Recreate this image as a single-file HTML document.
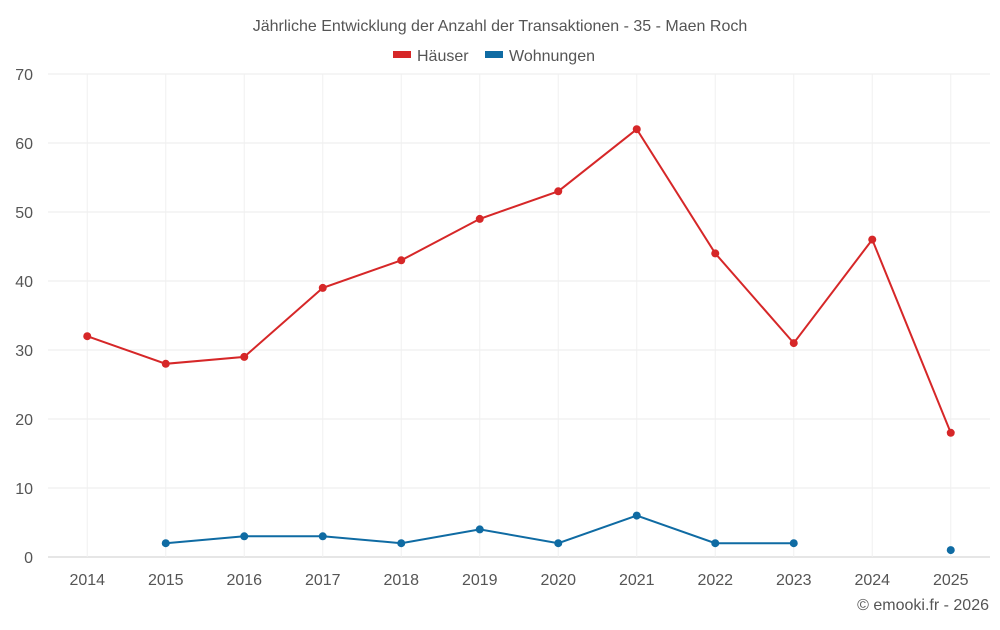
<!DOCTYPE html>
<html><head><meta charset="utf-8"><style>
body{margin:0;background:#fff;font-family:"Liberation Sans",sans-serif}
svg text{font-family:"Liberation Sans",sans-serif}
</style></head><body>
<svg id="chart" width="1000" height="625">
<text x="500" y="31" text-anchor="middle" font-size="16" fill="#555">Jährliche Entwicklung der Anzahl der Transaktionen - 35 - Maen Roch</text>
<g>
<g><rect x="393" y="51" width="18" height="7" fill="#d62728"/><text x="417" y="61" font-size="16" fill="#555">Häuser</text></g>
<g><rect x="485" y="51" width="18" height="7" fill="#0f6ba3"/><text x="509" y="61" font-size="16" fill="#555">Wohnungen</text></g>
</g>
<g id="grid"></g><g id="axes"></g><g id="series"></g>
<text x="989" y="610" text-anchor="end" font-size="16" fill="#555">© emooki.fr - 2026</text>
</svg>
<script>
const years=[2014,2015,2016,2017,2018,2019,2020,2021,2022,2023,2024,2025];
const haeuser=[32,28,29,39,43,49,53,62,44,31,46,18];
const wohnungen=[null,2,3,3,2,4,2,6,2,2,null,1];
const yTicks=[0,10,20,30,40,50,60,70];
const NS="http://www.w3.org/2000/svg";
const L=48,R=990,T=74,B=557,yMax=70;
const bw=(R-L)/years.length;
const x=i=>L+bw*(i+0.5);
const y=v=>B-(v/yMax)*(B-T);
function mk(tag,attrs,parent){const e=document.createElementNS(NS,tag);for(const k in attrs)e.setAttribute(k,attrs[k]);parent.appendChild(e);return e;}
const grid=document.getElementById('grid'),axes=document.getElementById('axes'),ser=document.getElementById('series');
yTicks.forEach(t=>{
 const l=mk('line',{x1:L,x2:R,y1:y(t),y2:y(t),stroke:t===0?'#ccc':'#ebebeb'},grid);
 
 
 const tx=mk('text',{x:33,y:y(t)+6,'text-anchor':'end','font-size':16,fill:'#555'},axes);tx.textContent=t;
 
 
});
years.forEach((yr,i)=>{
 const l=mk('line',{x1:x(i),x2:x(i),y1:T,y2:B,stroke:'#f0f0f0'},grid);
 
 
 const tx=mk('text',{x:x(i),y:585,'text-anchor':'middle','font-size':16,fill:'#555'},axes);tx.textContent=yr;
 
 
});
function draw(vals,color,name){
 let segs=[],cur=[];
 vals.forEach((v,i)=>{if(v==null){if(cur.length)segs.push(cur);cur=[];}else cur.push([x(i),y(v)]);});
 if(cur.length)segs.push(cur);
 segs.forEach(s=>{if(s.length>1){const p=mk('polyline',{points:s.map(q=>q.join(',')).join(' '),fill:'none',stroke:color,'stroke-width':2},ser);
  
  }});
 vals.forEach((v,i)=>{if(v==null)return;const c=mk('circle',{cx:x(i),cy:y(v),r:4,fill:color},ser);
  
  });
}
draw(haeuser,'#d62728','haeuser');
draw(wohnungen,'#0f6ba3','wohnungen');
</script>
</body></html>
